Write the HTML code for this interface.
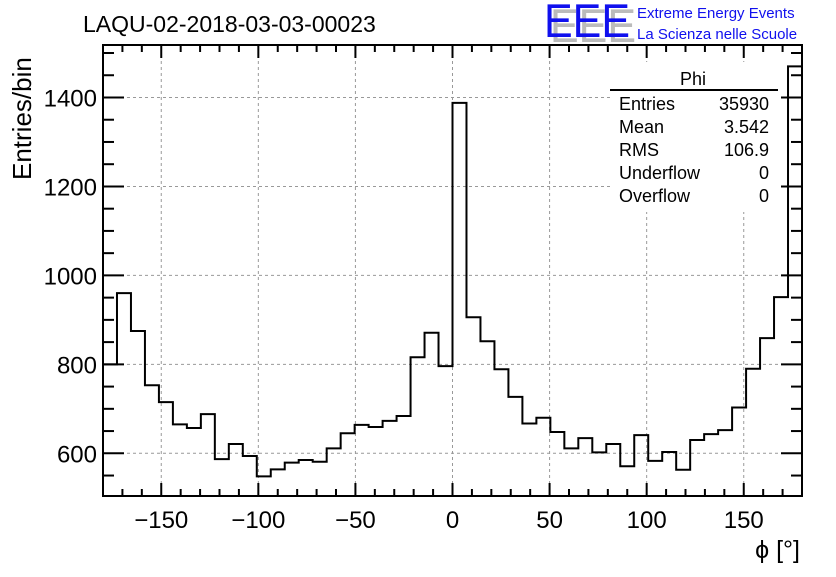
<!DOCTYPE html>
<html><head><meta charset="utf-8"><style>
body{margin:0;background:#fff;}
svg text{font-family:"Liberation Sans",Arial,sans-serif;}
</style></head><body>
<svg id="c" width="836" height="572" xmlns="http://www.w3.org/2000/svg">
<rect width="836" height="572" fill="#fff"/>
<g id="grid"></g>
<g id="stats">
<rect x="610" y="62" width="168" height="150" fill="#fff"/>
<text x="693" y="85" font-size="18" text-anchor="middle">Phi</text>
<line x1="610" y1="90" x2="778" y2="90" stroke="#000" stroke-width="2"/>
<text x="619" y="110" font-size="18">Entries</text>
<text x="769" y="110" font-size="18" text-anchor="end">35930</text>
<text x="619" y="133" font-size="18">Mean</text>
<text x="769" y="133" font-size="18" text-anchor="end">3.542</text>
<text x="619" y="156" font-size="18">RMS</text>
<text x="769" y="156" font-size="18" text-anchor="end">106.9</text>
<text x="619" y="179" font-size="18">Underflow</text>
<text x="769" y="179" font-size="18" text-anchor="end">0</text>
<text x="619" y="202" font-size="18">Overflow</text>
<text x="769" y="202" font-size="18" text-anchor="end">0</text>
</g>
<path id="hist" fill="none" stroke="#000" stroke-width="2"/>
<g id="axes"></g>
<rect x="103" y="45" width="699" height="451" fill="none" stroke="#000" stroke-width="2"/>
<text x="83" y="32" font-size="23">LAQU-02-2018-03-03-00023</text>
<text transform="translate(31,180) rotate(-90)" font-size="26">Entries/bin</text>
<text x="800" y="558" font-size="25" text-anchor="end">ϕ [°]</text>
<g>
<text x="550" y="42" font-size="47" fill="#bbb" textLength="86" lengthAdjust="spacingAndGlyphs">EEE</text>
<text x="544" y="37" font-size="47" fill="#1010ee" textLength="86" lengthAdjust="spacingAndGlyphs">EEE</text>
<text x="637" y="18" font-size="15" fill="#1010ee">Extreme Energy Events</text>
<text x="637" y="39" font-size="15" fill="#1010ee">La Scienza nelle Scuole</text>
</g>
</svg>
<script>
const binLow = -180, binWidth = 7.2;
const counts = [800,960,875,753,715,665,657,688,587,621,594,548,564,579,585,581,611,645,664,659,673,684,816,871,796,1388,906,852,789,727,667,680,648,611,634,602,621,571,641,583,603,563,630,643,652,703,790,859,951,1470];
const xTicks = [-150,-100,-50,0,50,100,150];
const xTickLabels = ["\u2212150","\u2212100","\u221250","0","50","100","150"];
const yTicks = [600,800,1000,1200,1400];
const yTickLabels = ["600","800","1000","1200","1400"];
const X0=103,X1=802,Y0=496,Y1=45,xmin=-180,xmax=180,ymin=504,ymax=1518;
const sx=v=>X0+(v-xmin)/(xmax-xmin)*(X1-X0);
const sy=v=>Y0-(v-ymin)/(ymax-ymin)*(Y0-Y1);
const NS="http://www.w3.org/2000/svg";
function mk(tag,attrs,parent){const e=document.createElementNS(NS,tag);for(const k in attrs)e.setAttribute(k,attrs[k]);parent.appendChild(e);return e;}
const grid=document.getElementById('grid'), axes=document.getElementById('axes');
xTicks.forEach((t,i)=>{
  const g=mk('line',{x1:sx(t),x2:sx(t),y1:Y0,y2:Y1,stroke:'#999','stroke-dasharray':'3,3','stroke-width':1},grid);
  
  
  const lb=mk('text',{x:sx(t),y:528,'font-size':24,'text-anchor':'middle'},axes);
  lb.textContent=xTickLabels[i];
  
  
});
yTicks.forEach((t,i)=>{
  const g=mk('line',{x1:X0,x2:X1,y1:sy(t),y2:sy(t),stroke:'#999','stroke-dasharray':'3,3','stroke-width':1},grid);
  
  
  const lb=mk('text',{x:97,y:sy(t)+9,'font-size':24,'text-anchor':'end'},axes);
  lb.textContent=yTickLabels[i];
  
  
});
for(let v=-180;v<=180;v+=10){
  const L=(v%50===0)?13:7;
  mk('line',{x1:sx(v),x2:sx(v),y1:Y0,y2:Y0-L,stroke:'#000','stroke-width':2},axes);
  mk('line',{x1:sx(v),x2:sx(v),y1:Y1,y2:Y1+L,stroke:'#000','stroke-width':2},axes);
}
for(let v=550;v<=1500;v+=50){
  const L=(v%200===0)?21:11;
  mk('line',{x1:X0,x2:X0+L,y1:sy(v),y2:sy(v),stroke:'#000','stroke-width':2},axes);
  mk('line',{x1:X1,x2:X1-L,y1:sy(v),y2:sy(v),stroke:'#000','stroke-width':2},axes);
}
let d='';
counts.forEach((c,i)=>{
  const a=sx(binLow+i*binWidth), b=sx(binLow+(i+1)*binWidth), y=sy(c);
  d+=(i===0?'M'+a+','+y:'L'+a+','+y)+' L'+b+','+y+' ';
});
document.getElementById('hist').setAttribute('d',d);
</script>
</body></html>
